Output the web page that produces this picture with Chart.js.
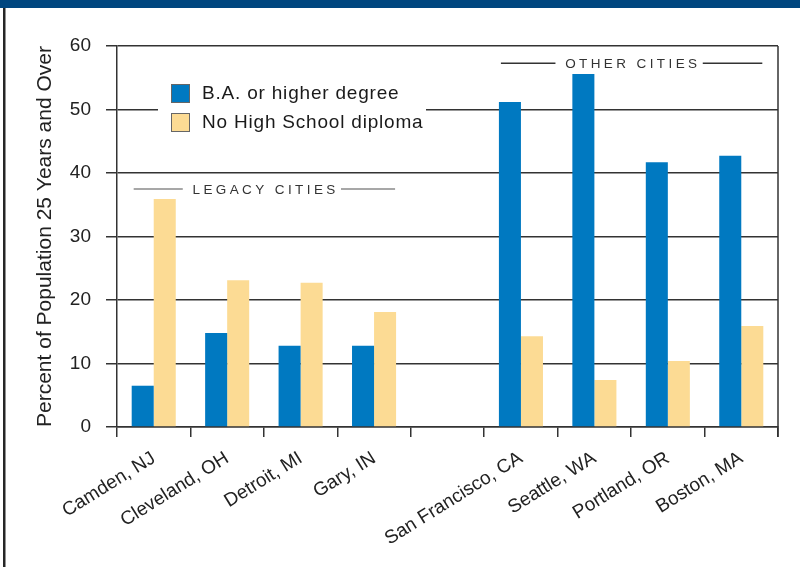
<!DOCTYPE html>
<html>
<head>
<meta charset="utf-8">
<script src="https://cdn.jsdelivr.net/npm/chart.js@4.4.1/dist/chart.umd.min.js"></script>
<style>
  html, body { margin: 0; padding: 0; background: #fff; }
  #wrap { width: 800px; height: 567px; }
</style>
</head>
<body>
<div id="wrap"><canvas id="chart" width="800" height="567"></canvas></div>
<script>
// data
const cities = ['Camden, NJ', 'Cleveland, OH', 'Detroit, MI', 'Gary, IN', '',
  'San Francisco, CA', 'Seattle, WA', 'Portland, OR', 'Boston, MA'];
const baOrHigher = [6.5, 14.8, 12.8, 12.8, null, 51.2, 55.6, 41.7, 42.7];
const noDiploma = [35.9, 23.1, 22.7, 18.1, null, 14.3, 7.4, 10.4, 15.9];
const seriesNames = ['B.A. or higher degree', 'No High School diploma'];
const yTicks = [0, 10, 20, 30, 40, 50, 60];
const groupNames = ['LEGACY CITIES', 'OTHER CITIES'];
const groupFirst = [0, 5];
const groupLast = [3, 8];

const BLUE = '#0079c1';
const TAN = '#fcdb94';
const FONT = "'Liberation Sans', Arial, sans-serif";

// annotation placement (value level on y axis, line colour)
const groupLevel = [37.5, 57.3];
const groupLine = ['#8a8a8a', '#333333'];

const decor = {
  id: 'decor',
  beforeDraw(chart) {
    const { ctx, width, height } = chart;
    ctx.save();
    ctx.fillStyle = '#fff';
    ctx.fillRect(0, 0, width, height);
    // top band
    ctx.fillStyle = '#00467f';
    ctx.fillRect(0, 0, width, 8);
    // left frame line
    ctx.fillStyle = '#262626';
    ctx.fillRect(3, 8, 2.5, height - 8);
    ctx.restore();
  },
  afterDraw(chart) {
    const { ctx, chartArea: a } = chart;
    ctx.save();

    // right border of the plot
    ctx.strokeStyle = '#333';
    ctx.lineWidth = 1.5;
    ctx.beginPath();
    ctx.moveTo(a.right, a.top);
    ctx.lineTo(a.right, a.bottom + 10);
    ctx.stroke();

    // legend (white patch hides the 50 gridline)
    const lx = a.left + 54, ly = a.top + 38;
    ctx.fillStyle = '#fff';
    ctx.fillRect(a.left + 41, ly - 8, 268, 64);
    const colors = [BLUE, TAN];
    ctx.font = '19px ' + FONT;
    ctx.letterSpacing = '0.8px';
    ctx.textBaseline = 'middle';
    ctx.textAlign = 'left';
    chart.data.datasets.forEach((ds, i) => {
      const y = ly + i * 29;
      ctx.fillStyle = colors[i];
      ctx.fillRect(lx, y, 19, 19);
      ctx.strokeStyle = '#666';
      ctx.lineWidth = 1;
      ctx.strokeRect(lx + 0.5, y + 0.5, 18, 18);
      ctx.fillStyle = '#1a1a1a';
      ctx.fillText(ds.label, lx + 31, y + 10);
    });

    // group annotations
    const m0 = chart.getDatasetMeta(0), m1 = chart.getDatasetMeta(1);
    ctx.font = '13.5px ' + FONT;
    ctx.letterSpacing = '3.4px';
    ctx.textAlign = 'center';
    groupNames.forEach((name, i) => {
      const b0 = m0.data[groupFirst[i]], b1 = m1.data[groupLast[i]];
      const x0 = b0.x - b0.width / 2;
      const x1 = b1.x + b1.width / 2;
      const y = chart.scales.y.getPixelForValue(groupLevel[i]);
      const cx = (x0 + x1) / 2;
      const tw = ctx.measureText(name).width;
      ctx.strokeStyle = groupLine[i];
      ctx.lineWidth = 1.5;
      ctx.beginPath();
      ctx.moveTo(x0 + 2, y);
      ctx.lineTo(cx - tw / 2 - 8, y);
      ctx.moveTo(cx + tw / 2 + 4, y);
      ctx.lineTo(x1 - 1, y);
      ctx.stroke();
      ctx.fillStyle = '#333';
      ctx.fillText(name, cx + 1.7, y + 1);
    });
    ctx.restore();
  }
};

new Chart(document.getElementById('chart'), {
  type: 'bar',
  data: {
    labels: cities,
    datasets: [
      { label: seriesNames[0], data: baOrHigher, backgroundColor: BLUE },
      { label: seriesNames[1], data: noDiploma, backgroundColor: TAN }
    ]
  },
  options: {
    responsive: false,
    animation: false,
    categoryPercentage: 0.6,
    barPercentage: 1.0,
    layout: { padding: { top: 46, right: 22, left: 0, bottom: 0 } },
    plugins: {
      legend: { display: false },
      tooltip: { enabled: false }
    },
    scales: {
      x: {
        grid: {
          offset: true,
          drawOnChartArea: false,
          drawTicks: true,
          tickLength: 10,
          color: '#333',
          lineWidth: 1.5
        },
        border: { display: true, color: '#333', width: 1.5 },
        ticks: {
          autoSkip: false,
          maxRotation: 32,
          minRotation: 32,
          padding: 10,
          color: '#222',
          font: { family: FONT, size: 19 }
        },
        afterFit(scale) { scale.height = 140; }
      },
      y: {
        min: yTicks[0],
        max: yTicks[yTicks.length - 1],
        afterBuildTicks(scale) { scale.ticks = yTicks.map(v => ({ value: v })); },
        grid: {
          color: '#333',
          lineWidth: 1.5,
          drawTicks: true,
          tickLength: 11
        },
        border: { display: true, color: '#333', width: 1.5 },
        ticks: {
          padding: 15,
          color: '#222',
          font: { family: FONT, size: 19 }
        },
        title: {
          display: true,
          text: 'Percent of Population 25 Years and Over',
          color: '#222',
          font: { family: FONT, size: 21 },
          padding: { top: 33, bottom: 0 }
        },
        afterFit(scale) { scale.width = 117; }
      }
    }
  },
  plugins: [decor]
});
</script>
</body>
</html>
